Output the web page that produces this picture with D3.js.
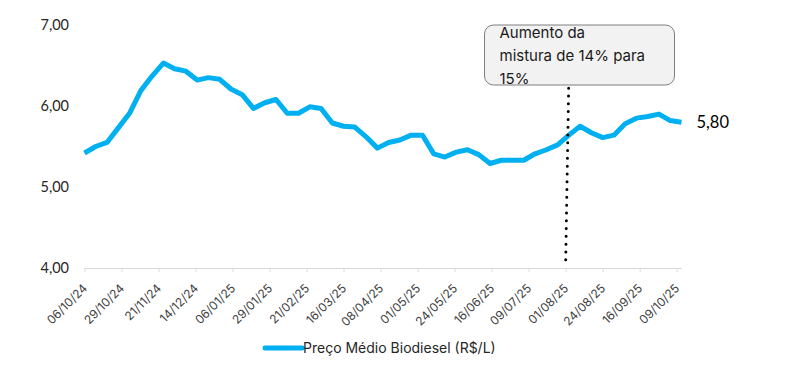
<!DOCTYPE html>
<html>
<head>
<meta charset="utf-8">
<script src="https://cdn.jsdelivr.net/npm/d3@7"></script>
<style>
  body { margin: 0; background: #fff; }
  svg { display: block; }
</style>
</head>
<body>
<svg id="chart" width="797" height="370"></svg>
<script>
const width = 797;
const height = 370;

// semanas (domingo) - preço médio do biodiesel
const dates = [
  "06/10/24","13/10/24","20/10/24","27/10/24","03/11/24","10/11/24","17/11/24","24/11/24",
  "01/12/24","08/12/24","15/12/24","22/12/24","29/12/24","05/01/25","12/01/25","19/01/25",
  "26/01/25","02/02/25","09/02/25","16/02/25","23/02/25","02/03/25","09/03/25","16/03/25",
  "23/03/25","30/03/25","06/04/25","13/04/25","20/04/25","27/04/25","04/05/25","11/05/25",
  "18/05/25","25/05/25","01/06/25","08/06/25","15/06/25","22/06/25","29/06/25","06/07/25",
  "13/07/25","20/07/25","27/07/25","03/08/25","10/08/25","17/08/25","24/08/25","31/08/25",
  "07/09/25","14/09/25","21/09/25","28/09/25","05/10/25","12/10/25"
];
const precos = [
  5.42, 5.50, 5.55, 5.73, 5.91, 6.19, 6.37, 6.53, 6.46, 6.43, 6.32, 6.35, 6.33, 6.21,
  6.14, 5.97, 6.04, 6.08, 5.91, 5.91, 5.99, 5.97, 5.79, 5.75, 5.74, 5.62, 5.48, 5.55,
  5.58, 5.64, 5.64, 5.41, 5.37, 5.43, 5.46, 5.40, 5.29, 5.33, 5.33, 5.33, 5.41, 5.46,
  5.52, 5.64, 5.75, 5.67, 5.61, 5.64, 5.78, 5.85, 5.87, 5.90, 5.82, 5.80
];
const tickDates = [
  "06/10/24","29/10/24","21/11/24","14/12/24","06/01/25","29/01/25","21/02/25","16/03/25",
  "08/04/25","01/05/25","24/05/25","16/06/25","09/07/25","01/08/25","24/08/25","16/09/25","09/10/25"
];
const yTicks = [4, 5, 6, 7];
const eventDate = "01/08/25";
const eventText = ["Aumento da", "mistura de 14% para", "15%"];
const seriesName = "Preço Médio Biodiesel (R$/L)";

const parse = d3.timeParse("%d/%m/%y");
const fmt = d3.timeFormat("%d/%m/%y");
const data = dates.map((d, i) => ({ date: parse(d), value: precos[i] }));

const x = d3.scaleTime()
  .domain([parse(dates[0]), parse(dates[dates.length - 1])])
  .range([84.5, 681.5]);
const y = d3.scaleLinear().domain([4, 7]).range([268, 25]);

const svg = d3.select("#chart");

// eixo x
const xAxis = svg.append("g")
  .attr("transform", `translate(0,${y(4)})`)
  .call(d3.axisBottom(x).tickValues(tickDates.map(parse)).tickFormat(fmt).tickSize(4).tickSizeOuter(0));
xAxis.select(".domain").attr("stroke", "#d9d9d9");
xAxis.selectAll(".tick line").attr("stroke", "#d9d9d9");
xAxis.selectAll(".tick text")
  .attr("fill", "#404040")
  .attr("font-family", "Inter, sans-serif")
  .attr("font-size", 12)
  .attr("text-anchor", "end")
  .attr("transform", "translate(3,21) rotate(-45)")
  .attr("dy", 0)
  .attr("y", 0)
  .attr("x", 0);

// rótulos do eixo y (sem linhas)
svg.append("g").selectAll("text")
  .data(yTicks)
  .join("text")
  .attr("x", 69)
  .attr("y", d => y(d))
  .attr("dy", "0.35em")
  .attr("text-anchor", "end")
  .attr("font-family", "Lato, sans-serif")
  .attr("font-size", 14.5)
  .attr("fill", "#262626")
  .text(d => d3.format(".2f")(d).replace(".", ","));

// linha da série
const line = d3.line().x(d => x(d.date)).y(d => y(d.value));
svg.append("path")
  .datum(data)
  .attr("fill", "none")
  .attr("stroke", "#00b0f0")
  .attr("stroke-width", 5)
  .attr("stroke-linejoin", "round")
  .attr("d", line);

// último valor
const last = data[data.length - 1];
svg.append("text")
  .attr("x", x(last.date) + 15)
  .attr("y", y(last.value))
  .attr("dy", "0.35em")
  .attr("font-family", "Lato, sans-serif")
  .attr("font-size", 16.5)
  .attr("fill", "#000")
  .text(d3.format(".2f")(last.value).replace(".", ","));

// linha pontilhada do evento
const ex = x(parse(eventDate));
svg.append("line")
  .attr("x1", ex + 3).attr("y1", y(6.22))
  .attr("x2", ex).attr("y2", y(4.05))
  .attr("stroke", "#000")
  .attr("stroke-width", 3)
  .attr("stroke-linecap", "round")
  .attr("stroke-dasharray", "0 7.8");

// caixa de anotação
const box = { x: 484.5, y: 25, w: 190, h: 60 };
svg.append("clipPath").attr("id", "boxclip")
  .append("rect").attr("x", box.x).attr("y", box.y).attr("width", box.w).attr("height", box.h);
svg.append("rect")
  .attr("x", box.x).attr("y", box.y).attr("width", box.w).attr("height", box.h)
  .attr("rx", 9)
  .attr("fill", "#f2f2f2")
  .attr("stroke", "#7f7f7f")
  .attr("stroke-width", 1);
svg.append("g").attr("clip-path", "url(#boxclip)")
  .selectAll("text")
  .data(eventText)
  .join("text")
  .attr("x", box.x + 15)
  .attr("y", (d, i) => box.y + 13 + i * 23)
  .attr("font-family", "Inter, sans-serif")
  .attr("font-size", 15)
  .attr("fill", "#1a1a1a")
  .text(d => d);

// legenda
const leg = svg.append("g").attr("transform", "translate(265,348)");
leg.append("line")
  .attr("x1", 0).attr("x2", 37)
  .attr("stroke", "#00b0f0").attr("stroke-width", 5).attr("stroke-linecap", "round");
leg.append("text")
  .attr("x", 38).attr("dy", "0.35em")
  .attr("font-family", "Inter, sans-serif")
  .attr("font-size", 14)
  .attr("fill", "#262626")
  .text(seriesName);
</script>
</body>
</html>
